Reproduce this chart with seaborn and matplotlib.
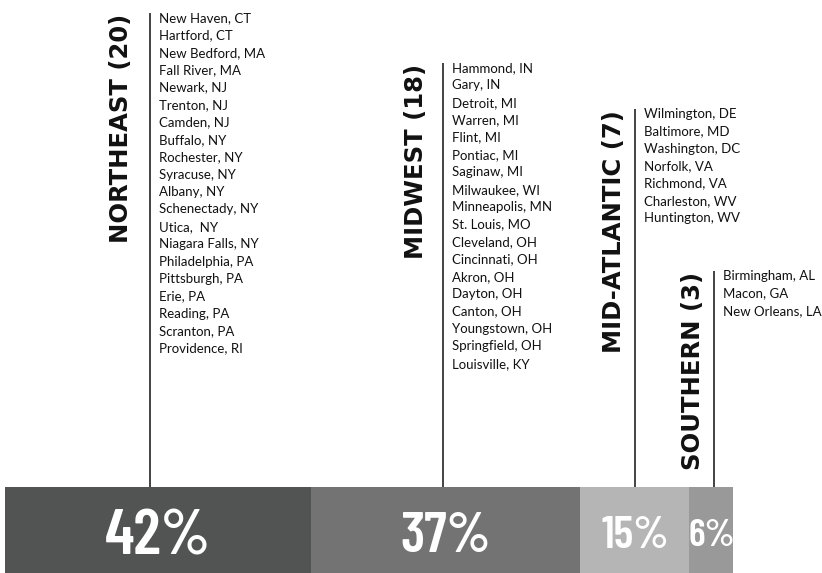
import numpy as np
import matplotlib.pyplot as plt
import matplotlib.transforms as mtrans
import seaborn as sns

# data
regions = ['NORTHEAST (20)', 'MIDWEST (18)', 'MID-ATLANTIC (7)', 'SOUTHERN (3)']
shares = [42, 37, 15, 6]
share_labels = ['42%', '37%', '15%', '6%']
colors = ['#525453', '#737373', '#b5b5b5', '#999999']

cities_northeast = [
    'New Haven, CT', 'Hartford, CT', 'New Bedford, MA', 'Fall River, MA', 'Newark, NJ',
    'Trenton, NJ', 'Camden, NJ', 'Buffalo, NY', 'Rochester, NY', 'Syracuse, NY',
    'Albany, NY', 'Schenectady, NY', 'Utica,  NY', 'Niagara Falls, NY', 'Philadelphia, PA',
    'Pittsburgh, PA', 'Erie, PA', 'Reading, PA', 'Scranton, PA', 'Providence, RI',
]
cities_midwest = [
    'Hammond, IN', 'Gary, IN', 'Detroit, MI', 'Warren, MI', 'Flint, MI', 'Pontiac, MI',
    'Saginaw, MI', 'Milwaukee, WI', 'Minneapolis, MN', 'St. Louis, MO', 'Cleveland, OH',
    'Cincinnati, OH', 'Akron, OH', 'Dayton, OH', 'Canton, OH', 'Youngstown, OH',
    'Springfield, OH', 'Louisville, KY',
]
cities_midatlantic = [
    'Wilmington, DE', 'Baltimore, MD', 'Washington, DC', 'Norfolk, VA',
    'Richmond, VA', 'Charleston, WV', 'Huntington, WV',
]
cities_southern = ['Birmingham, AL', 'Macon, GA', 'New Orleans, LA']
city_lists = [cities_northeast, cities_midwest, cities_midatlantic, cities_southern]

sns.set_style('white')
plt.rcParams['font.family'] = ['Lato', 'DejaVu Sans']
# condensed face for the big percentages, falls back if missing
pct_font = ['Barlow Condensed', 'DejaVu Sans']

fig = plt.figure(figsize=(8.22, 5.73), dpi=100)
ax = fig.add_axes([0, 0, 1, 1])

# stacked bar: draw cumulative totals from the longest down
ends = np.cumsum(shares)
for i in reversed(range(len(shares))):
    sns.barplot(x=[ends[i]], y=[0], orient='h', color=colors[i], saturation=1,
                width=86, linewidth=0, errorbar=None, ax=ax)

ax.set_xlim(-0.7, 112.2)
ax.set_ylim(43, -530)   # y units ~ pixels, bar centred on 0
ax.axis('off')

centers = ends - np.array(shares) / 2
line_nudge = [-1.1, -0.4, 0.0, 0.4]
line_top = [-517, -467, -421, -259]
label_gap = [17, 15, 9, 9]
pct_size = [46, 41, 33, 28]

for i, region in enumerate(regions):
    x = centers[i] + line_nudge[i]
    ax.vlines(x, line_top[i], -43, color='#222222', lw=1.2)
    lab_tr = mtrans.offset_copy(ax.transData, fig, x=-label_gap[i], y=-1, units='dots')
    ax.text(x, line_top[i], region, rotation=90, ha='right', va='top', transform=lab_tr,
            fontsize=17.5, fontweight='bold', family=['DejaVu Sans'], color='#111111')
    city_tr = mtrans.offset_copy(ax.transData, fig, x=9, units='dots')
    for j, city in enumerate(city_lists[i]):
        ax.text(x, line_top[i] + 5 + j * 17.4, city, ha='left', va='center',
                transform=city_tr, fontsize=9.5, color='#111111')
    ax.text(centers[i], 2, share_labels[i], ha='center', va='center_baseline', color='white',
            fontsize=pct_size[i], fontweight=600, family=pct_font)

fig.savefig('out.png', dpi=100)
